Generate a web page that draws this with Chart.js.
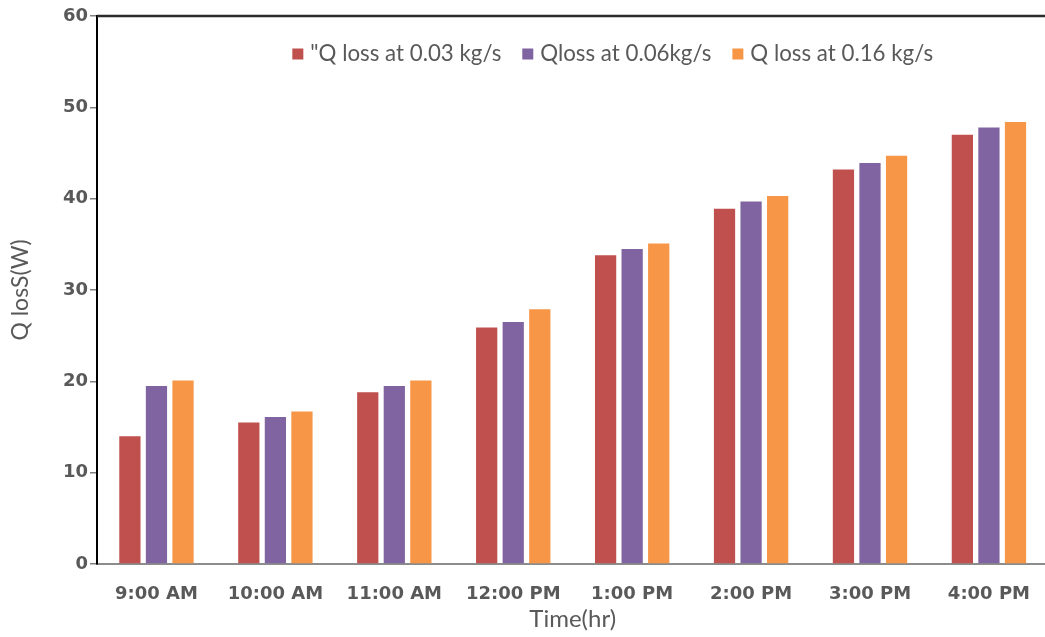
<!DOCTYPE html>
<html>
<head>
<meta charset="utf-8">
<script src="https://cdn.jsdelivr.net/npm/chart.js@4/dist/chart.umd.min.js"></script>
<style>
  html, body { margin: 0; padding: 0; background: #ffffff; overflow: hidden; }
  #wrap { width: 1045px; height: 637px; overflow: hidden; }
</style>
</head>
<body>
<div id="wrap"><canvas id="chart" width="1050" height="637"></canvas></div>
<script>
// Hourly heat loss for three mass flow rates
const categories = ['9:00 AM', '10:00 AM', '11:00 AM', '12:00 PM', '1:00 PM', '2:00 PM', '3:00 PM', '4:00 PM'];
const seriesLabels = ['"Q loss at 0.03 kg/s', 'Qloss at 0.06kg/s', 'Q loss at 0.16 kg/s'];
const qLoss003 = [14.0, 15.5, 18.8, 25.9, 33.8, 38.9, 43.2, 47.0];
const qLoss006 = [19.5, 16.1, 19.5, 26.5, 34.5, 39.7, 43.9, 47.8];
const qLoss016 = [20.1, 16.7, 20.1, 27.9, 35.1, 40.3, 44.7, 48.4];
const yTickValues = [0, 10, 20, 30, 40, 50, 60];
const seriesColors = ['#C0504D', '#8064A2', '#F79646'];

const textGrey = '#595959';

// Line along the top edge of the plot area
const topEdge = {
  id: 'topEdge',
  afterDraw(chart) {
    const { ctx, chartArea } = chart;
    ctx.save();
    ctx.strokeStyle = '#2b2b2b';
    ctx.lineWidth = 2.5;
    ctx.beginPath();
    ctx.moveTo(chartArea.left, chartArea.top);
    ctx.lineTo(chart.width, chartArea.top);
    ctx.stroke();
    ctx.restore();
  }
};

// Legend drawn inside the plot area, one row
const innerLegend = {
  id: 'innerLegend',
  afterDraw(chart, args, opts) {
    const { ctx, chartArea } = chart;
    ctx.save();
    ctx.font = opts.size + 'px ' + opts.family;
    ctx.textBaseline = 'middle';
    ctx.textAlign = 'left';
    const items = chart.data.datasets.map(ds => ({
      text: ds.label,
      color: ds.backgroundColor,
      w: ctx.measureText(ds.label).width
    }));
    const total = items.reduce((s, it) => s + opts.box + opts.boxGap + it.w, 0) + opts.itemGap * (items.length - 1);
    let x = (chartArea.left + chartArea.right) / 2 + opts.shift - total / 2;
    const y = chartArea.top + opts.offsetY;
    items.forEach(it => {
      ctx.fillStyle = it.color;
      ctx.fillRect(x, y - opts.box / 2, opts.box, opts.box);
      x += opts.box + opts.boxGap;
      ctx.fillStyle = textGrey;
      ctx.fillText(it.text, x, y);
      x += it.w + opts.itemGap;
    });
    ctx.restore();
  }
};

const datasets = [qLoss003, qLoss006, qLoss016].map((values, i) => ({
  label: seriesLabels[i],
  data: values,
  backgroundColor: seriesColors[i],
  borderWidth: 0,
  categoryPercentage: 0.67,
  barPercentage: 0.8
}));

new Chart(document.getElementById('chart'), {
  type: 'bar',
  data: { labels: categories, datasets },
  plugins: [topEdge, innerLegend],
  options: {
    responsive: false,
    animation: false,
    devicePixelRatio: 1,
    layout: { padding: { left: 0, right: 0, top: 16, bottom: 0 } },
    plugins: {
      legend: { display: false },
      tooltip: { enabled: false },
      innerLegend: { family: 'Lato', size: 22.3, box: 11, boxGap: 7, itemGap: 21, shift: 40, offsetY: 38 }
    },
    scales: {
      x: {
        grid: { display: false, drawTicks: false },
        border: { display: true, color: '#8c8c8c', width: 2 },
        ticks: {
          color: textGrey,
          padding: 20,
          maxRotation: 0,
          autoSkip: false,
          font: { family: 'DejaVu Sans', weight: 'bold', size: 18 }
        },
        title: {
          display: true,
          text: 'Time(hr)',
          color: textGrey,
          font: { family: 'Lato', size: 24 },
          padding: { top: 0, bottom: 3 }
        },
        afterFit(scale) { scale.height = 73; }
      },
      y: {
        min: 0,
        max: 60,
        afterBuildTicks(scale) { scale.ticks = yTickValues.map(v => ({ value: v })); },
        grid: { drawOnChartArea: false, drawTicks: true, tickLength: 7, color: '#808080', lineWidth: 1.5 },
        border: { display: true, color: '#000000', width: 2 },
        ticks: {
          color: textGrey,
          padding: 2,
          font: { family: 'DejaVu Sans', weight: 'bold', size: 18 }
        },
        title: {
          display: true,
          text: 'Q losS(W)',
          color: textGrey,
          font: { family: 'Lato', size: 23 },
          padding: { top: 7, bottom: 0 }
        },
        afterFit(scale) { scale.width = 97; }
      }
    }
  }
});
</script>
</body>
</html>
